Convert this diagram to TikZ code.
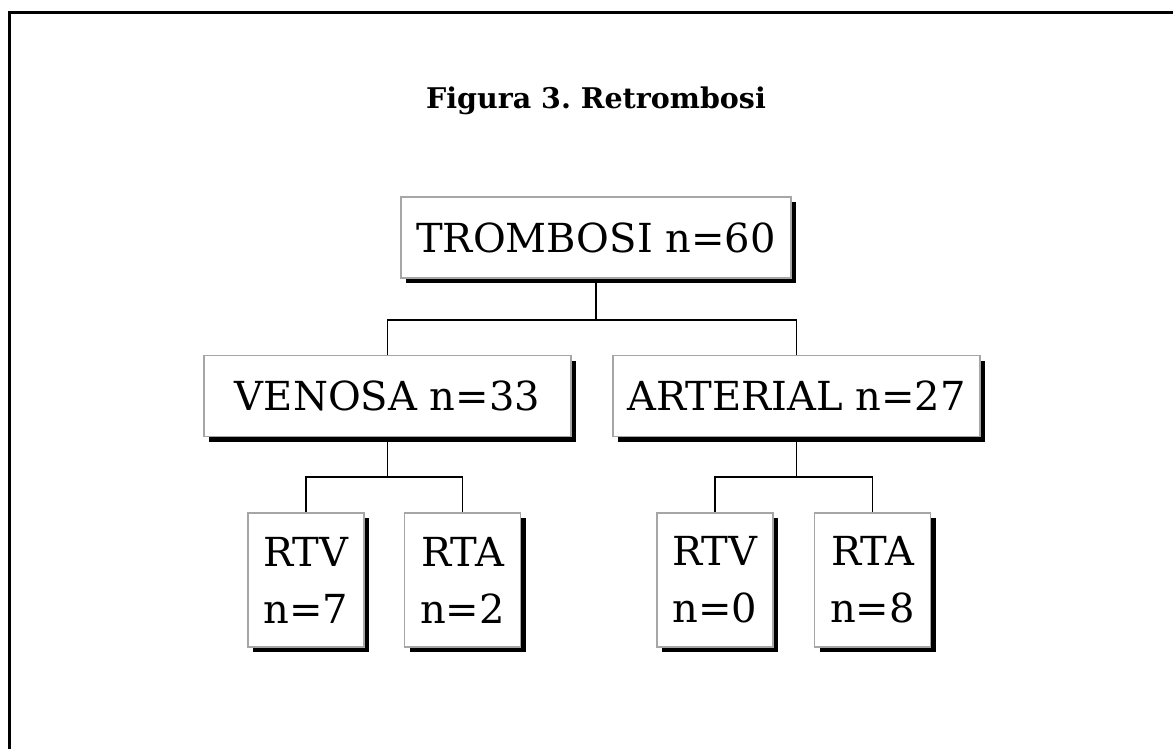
\documentclass[tikz,border=0pt]{standalone}
\usepackage{fontspec}
\setmainfont{DejaVu Serif}
\usetikzlibrary{shadows}
\frenchspacing
\tikzset{
    box/.style={draw=gray!70, line width=1.2pt, fill=white, inner sep=0pt, align=center,
        font=\fontsize{40}{57}\selectfont,
        drop shadow={shadow xshift=5pt, shadow yshift=-5pt, fill=black, opacity=1}},
    bigbox/.style={box, minimum height=81pt},
    smallbox/.style={box, minimum width=116pt, minimum height=134pt},
    link/.style={black, line width=1.5pt}
}
\begin{document}
\begin{tikzpicture}[x=1pt, y=-1pt]
            \useasboundingbox (0,0) rectangle (1173,749);
            \fill[white] (0,0) rectangle (1173,749);
            \draw[black, line width=3pt] (9,749) -- (9,13) -- (1173,13);
            \node (title) at (596,109) [anchor=base, font=\fontsize{28.5}{34}\selectfont\bfseries]{Figura 3. Retrombosi};
            \node (tromb) at (596,237.5) [bigbox, minimum width=390pt]{TROMBOSI n=60};
            \node (ven) at (387.5,396) [bigbox, minimum width=367pt]{VENOSA n=33};
            \node (art) at (796.5,396) [bigbox, minimum width=367pt]{ARTERIAL n=27};
            \node (vrtv) at (306,580) [smallbox]{RTV\\n=7};
            \node (vrta) at (462.5,580) [smallbox]{RTA\\n=2};
            \node (artv) at (715,580) [smallbox]{RTV\\n=0};
            \node (arta) at (872.5,580) [smallbox]{RTA\\n=8};
            \coordinate (j1) at (596,320);
            \coordinate (j2) at (387.5,477);
            \coordinate (j3) at (796.5,477);
            \draw[link] (tromb.south) -- (j1);
            \draw[link] (ven.north) |- (j1) -| (art.north);
            \draw[link] (ven.south) -- (j2);
            \draw[link] (vrtv.north) |- (j2) -| (vrta.north);
            \draw[link] (art.south) -- (j3);
            \draw[link] (artv.north) |- (j3) -| (arta.north);
        \end{tikzpicture}
\end{document}
